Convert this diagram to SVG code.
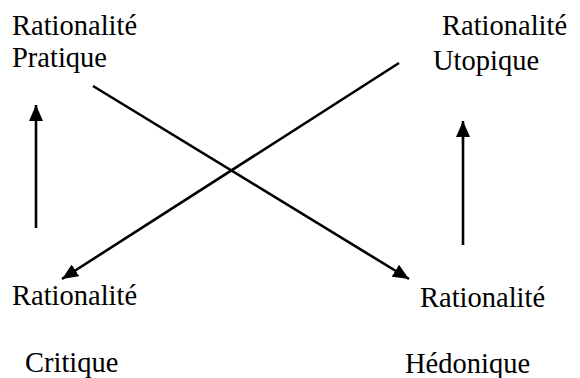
<svg xmlns="http://www.w3.org/2000/svg" width="580" height="378" viewBox="0 0 580 378">
<defs>
<style>
text{font-family:"Liberation Serif","Times New Roman",serif;font-size:28.5px;fill:#000}
.c{stroke:#000;stroke-width:2.6;fill:none}
</style>
<marker id="ah" viewBox="0 0 16 14" refX="16" refY="7" markerWidth="16" markerHeight="14" markerUnits="userSpaceOnUse" orient="auto">
<path d="M0,0 L16,7 L0,14 z" fill="#000"/>
</marker>
</defs>
<rect width="580" height="378" fill="#fff"/>
<g id="pratique"><text x="12" y="35">Rationalité</text><text x="12" y="67">Pratique</text></g>
<g id="utopique"><text x="442" y="35">Rationalité</text><text x="433" y="70">Utopique</text></g>
<g id="critique"><text x="12" y="305">Rationalité</text><text x="25" y="372">Critique</text></g>
<g id="hedonique"><text x="420" y="307">Rationalité</text><text x="405" y="373">Hédonique</text></g>
<g id="connectors">
<line class="c" x1="93" y1="86" x2="409" y2="279" marker-end="url(#ah)"/>
<line class="c" x1="399" y1="63" x2="62" y2="279" marker-end="url(#ah)"/>
<line class="c" x1="36" y1="228" x2="36" y2="105" marker-end="url(#ah)"/>
<line class="c" x1="463" y1="245" x2="463" y2="121" marker-end="url(#ah)"/>
</g>
</svg>
